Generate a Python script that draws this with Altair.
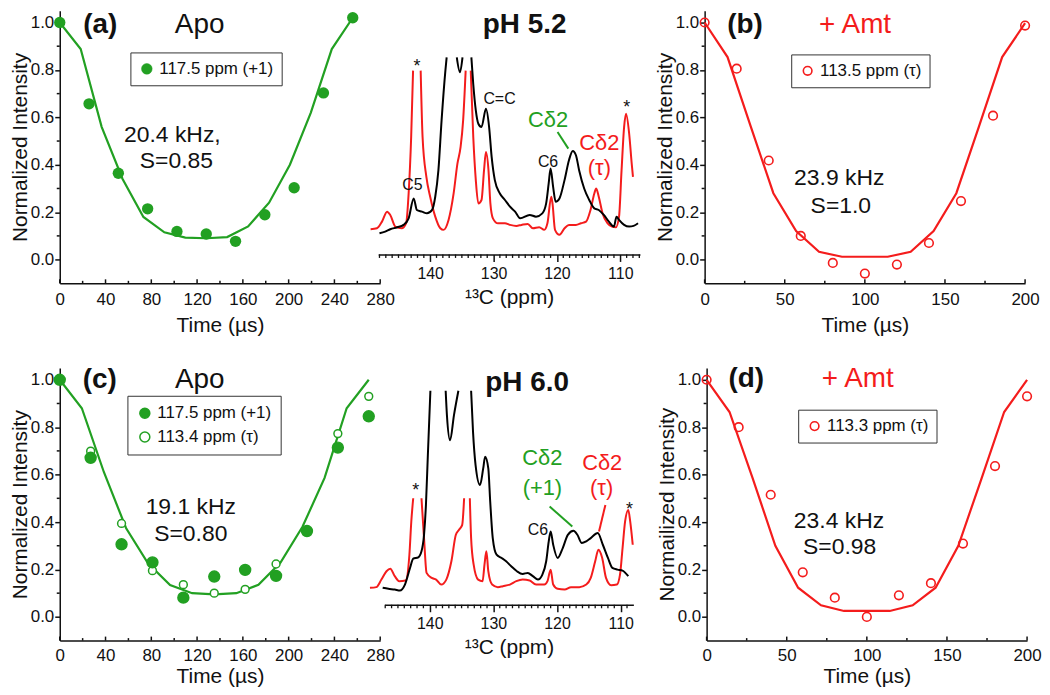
import altair as alt
import pandas as pd

FONT = "Liberation Sans"
GREEN = "#22a022"
RED = "#f41c1c"
INK = "#111111"

# ---------------- panel (a) ----------------
a_time = [0, 25.6, 51.2, 76.8, 102.4, 128.0, 153.6, 179.2, 204.8, 230.4, 256.0]
a_int = [1.0, 0.657, 0.364, 0.214, 0.119, 0.108, 0.077, 0.189, 0.303, 0.703, 1.02]
a_fit_time = [0, 18.3, 36.6, 54.9, 73.1, 91.4, 109.7, 128.0, 146.3, 164.6, 182.9, 201.1, 219.4, 237.7, 256.0]
a_fit_int = [1.0, 0.888, 0.56, 0.34, 0.18, 0.115, 0.093, 0.09, 0.095, 0.14, 0.24, 0.40, 0.62, 0.888, 1.02]
a_label = "117.5 ppm (+1)"

# ---------------- panel (b) ----------------
b_time = [0, 20, 40, 60, 80, 100, 120, 140, 160, 180, 200]
b_int = [1.0, 0.805, 0.418, 0.100, -0.014, -0.059, -0.021, 0.070, 0.247, 0.607, 0.987]
b_fit_time = [0, 14.3, 28.6, 42.9, 57.1, 71.4, 85.7, 100.0, 114.3, 128.6, 142.9, 157.1, 171.4, 185.7, 200.0]
b_fit_int = [1.0, 0.854, 0.565, 0.28, 0.12, 0.033, 0.012, 0.012, 0.012, 0.033, 0.12, 0.28, 0.565, 0.854, 0.997]
b_label = "113.5 ppm (τ)"

# ---------------- panel (c) ----------------
c_time = [0, 27, 54, 81, 108, 135, 162, 189, 216, 243, 270]
c_int_p1 = [1.0, 0.671, 0.306, 0.230, 0.081, 0.170, 0.198, 0.173, 0.362, 0.714, 0.846]
c_int_tau = [1.0, 0.699, 0.394, 0.195, 0.136, 0.100, 0.116, 0.223, 0.365, 0.773, 0.930]
c_fit_time = [0, 19.3, 38.6, 57.9, 77.1, 96.4, 115.7, 135.0, 154.3, 173.6, 192.9, 212.1, 231.4, 250.7, 270.0]
c_fit_int = [1.0, 0.88, 0.61, 0.375, 0.226, 0.134, 0.10, 0.095, 0.10, 0.135, 0.229, 0.38, 0.586, 0.88, 1.0]
c_labels = ["117.5 ppm (+1)", "113.4 ppm (τ)"]

# ---------------- panel (d) ----------------
d_time = [0, 20, 40, 60, 80, 100, 120, 140, 160, 180, 200]
d_int = [1.0, 0.80, 0.515, 0.188, 0.081, 0.0, 0.091, 0.142, 0.309, 0.636, 0.930]
d_fit_time = [0, 14.3, 28.6, 42.9, 57.1, 71.4, 85.7, 100.0, 114.3, 128.6, 142.9, 157.1, 171.4, 185.7, 200.0]
d_fit_int = [1.0, 0.864, 0.587, 0.30, 0.123, 0.049, 0.025, 0.025, 0.025, 0.049, 0.123, 0.30, 0.58, 0.864, 1.0]
d_label = "113.3 ppm (τ)"

# ---------------- spectrum pH 5.2 (ppm, intensity, segment) ----------------
s1_black_ppm = [148.0, 147.1, 146.3, 145.2, 144.2, 143.4, 142.6, 142.1, 141.3, 140.5, 139.7, 139.2, 138.7, 138.2, 137.6, 137.4,
                135.8, 135.3, 134.9,
                133.5, 133.2, 132.8, 132.4, 131.9, 131.2, 130.7, 130.3, 129.8, 129.0, 128.2, 127.4, 126.6, 125.8,
                124.3, 123.3, 122.3, 121.7, 121.3, 121.0, 120.6, 120.2, 119.6, 118.8, 118.1, 117.5, 117.0, 116.5,
                115.7, 114.9, 114.1, 113.4, 112.6, 111.8, 111.0, 110.6, 110.2, 109.4, 108.6, 107.9, 107.2]
s1_black_int = [21.3, 23, 25.3, 27.3, 29.7, 36.3, 56.3, 44.7, 43, 41.3, 44.7, 58, 84.7, 134.7, 184.7, 198,
                198, 183, 198,
                198, 171, 144.7, 131.3, 128, 146.3, 128, 98, 74.7, 61.3, 54.7, 48, 43, 36.3,
                39.7, 38, 41.3, 51.3, 71.3, 86.3, 68, 53, 56.3, 74.7, 94.7, 104, 99.7, 84.7,
                66.3, 54.7, 46.3, 44.7, 39.7, 33, 28, 38, 34.7, 29.7, 28, 28.7, 31.3]
s1_black_seg = [0] * 16 + [1] * 3 + [2] * 41

s1_red_ppm = [149.4, 148.4, 147.6, 146.8, 146.3, 145.5, 144.5, 143.8, 143.4, 143.0, 142.7,
              141.5, 141.2, 140.6, 140.0, 139.2, 138.4, 137.9, 137.1, 136.3, 135.7, 135.2, 134.8, 134.4,
              133.6, 133.2, 132.8, 132.4, 131.9, 131.5, 131.2, 130.8, 130.5, 130.1, 129.3, 128.2, 127.4, 126.4,
              125.6, 124.6, 123.8, 122.8, 122.0, 121.5, 120.9, 120.7, 120.3, 119.6, 118.8, 118.1, 117.0, 116.2,
              115.4, 114.7, 114.1, 113.8, 113.4, 112.8, 112.0, 111.3, 110.7, 110.2, 109.8, 109.4, 109.1, 108.6,
              108.2, 108.0]
s1_red_int = [25.3, 26.3, 33, 43, 39.7, 28, 26.3, 31.3, 61.3, 118, 184.7,
              184.7, 118, 78, 58, 38, 26.3, 24.7, 34.7, 61.3, 91.3, 108, 134.7, 184.7,
              184.7, 118, 74.7, 51.3, 54.7, 84.7, 103, 84.7, 51.3, 36.3, 31.3, 31.3, 29.7, 28.7,
              29.7, 30.7, 26.3, 27.3, 24.7, 31.3, 58, 51.3, 24.7, 19.7, 26.3, 29.7, 29.7, 31.3,
              33, 44.7, 61.3, 66.3, 58, 41.3, 31.3, 28, 27.3, 38, 84.7, 128, 141.3, 121.3,
              91.3, 78]
s1_red_seg = [0] * 11 + [1] * 13 + [2] * 44

# ---------------- spectrum pH 6.0 ----------------
s2_black_ppm = [147.4, 146.5, 145.5, 144.7, 143.9, 143.1, 142.6, 141.8, 141.3, 140.9, 140.6, 140.3, 139.9,
                137.5, 137.3, 136.8, 136.2, 135.5,
                133.5, 133.2, 132.8, 132.1, 131.6, 131.3, 130.8, 130.5, 130.1, 129.5, 128.7, 128.0, 127.2, 126.3,
                125.4, 124.6, 123.8, 123.0, 122.3, 121.7, 121.3, 121.0, 120.6, 119.9, 119.1, 118.3, 117.4, 116.8,
                116.1, 115.4, 114.7, 113.6, 112.8, 112.0, 111.3, 110.5, 109.7, 108.8]
s2_black_int = [17, 16, 15.3, 14.3, 20.3, 37, 46.3, 47.7, 53.7, 70.3, 100.3, 150.3, 215,
                215, 190.3, 165.3, 190.3, 215,
                215, 173.7, 140.3, 120.3, 137, 148.7, 137, 103.7, 67, 50.3, 47, 43.7, 38.7, 33.7,
                31, 32, 28.7, 25.3, 30.3, 43.7, 63.7, 73.7, 60.3, 47, 57, 70.3, 74.3, 70.3,
                62, 63.7, 67, 72, 60.3, 47, 37, 35.3, 34.3, 28.7]
s2_black_seg = [0] * 13 + [1] * 5 + [2] * 38

s2_red_ppm = [149.4, 148.4, 147.6, 146.8, 146.2, 145.5, 144.8, 143.8, 143.2, 142.9, 142.6,
              141.3, 140.9, 140.5, 139.7, 139.0, 138.2, 137.4, 136.6, 135.9, 135.4, 134.9, 134.6,
              133.7, 133.5, 133.1, 132.4, 131.7, 131.4, 131.1, 130.8, 130.2, 129.3, 128.5, 127.4, 126.4,
              125.4, 124.3, 123.3, 122.0, 121.5, 121.0, 120.6, 119.9, 118.8, 117.8, 116.5, 115.4, 114.7,
              114.0, 113.5, 112.9, 112.3, 111.5, 110.6, 110.1, 109.7, 109.3, 108.8, 108.5, 108.1]
s2_red_int = [17, 17.7, 25.3, 33.7, 36.3, 28.7, 23.7, 24.3, 50.3, 83.7, 107,
              107, 67, 32, 27, 25.3, 20.3, 25.3, 43.7, 70.3, 75.3, 80.3, 107,
              107, 67, 40.3, 25.3, 23.7, 40.3, 53.7, 33.7, 20.3, 17.7, 18.7, 20.3, 23.7,
              25.3, 24.3, 20.3, 20.3, 23.7, 35.3, 20.3, 16, 15.3, 17.7, 17.7, 20.3, 27,
              43.7, 55.3, 47, 27, 19.7, 20.3, 30.3, 57, 83.7, 95.3, 83.7, 60.3]
s2_red_seg = [0] * 11 + [1] * 12 + [2] * 38

# ---------------- annotation texts: (text, x, y, size, weight, color, baseline) ----------------
A_TEXT = [("(a)", 35.5, 1.05, 28, "bold", INK, "top"), ("Apo", 122.2, 1.05, 28, "normal", INK, "top"),
          ("20.4 kHz,", 98.4, 0.527, 23, "normal", INK, "middle"), ("S=0.85", 101.9, 0.417, 23, "normal", INK, "middle")]
B_TEXT = [("(b)", 25.2, 1.05, 28, "bold", INK, "top"), ("+ Amt", 93.9, 1.05, 28, "normal", RED, "top"),
          ("23.9 kHz", 84.0, 0.342, 23, "normal", INK, "middle"), ("S=1.0", 85.0, 0.228, 23, "normal", INK, "middle")]
C_TEXT = [("(c)", 35.0, 0.997, 28, "bold", INK, "middle"), ("Apo", 122.3, 0.997, 28, "normal", INK, "middle"),
          ("19.1 kHz", 114.5, 0.464, 23, "normal", INK, "middle"), ("S=0.80", 114.5, 0.351, 23, "normal", INK, "middle")]
D_TEXT = [("(d)", 24.8, 1.001, 28, "bold", INK, "middle"), ("+ Amt", 94.3, 1.001, 28, "normal", RED, "middle"),
          ("23.4 kHz", 82.6, 0.405, 23, "normal", INK, "middle"), ("S=0.98", 83.0, 0.293, 23, "normal", INK, "middle")]
S1_TEXT = [("pH 5.2", 125.1, 245, 28, "bold", INK, "top"), ("*", 142.1, 188, 18, "normal", INK, "middle"),
           ("C5", 142.8, 70, 16, "normal", INK, "middle"), ("C=C", 129.06, 156, 16, "normal", INK, "middle"),
           ("Cδ2", 121.4, 134.7, 22, "normal", GREEN, "middle"), ("Cδ2", 113.3, 112.3, 22, "normal", RED, "middle"),
           ("(τ)", 113.3, 87.3, 22, "normal", RED, "middle"), ("C6", 121.4, 92.7, 16, "normal", INK, "middle"),
           ("*", 109.0, 147, 18, "normal", INK, "middle")]
S1_LINKS = [(119.9, 123, 118.2, 106.3, GREEN)]
S2_TEXT = [("pH 6.0", 124.7, 223.0, 28, "bold", INK, "middle"), ("*", 142.2, 114, 18, "normal", INK, "middle"),
           ("Cδ2", 122.3, 147, 22, "normal", GREEN, "middle"), ("(+1)", 122.3, 117, 22, "normal", GREEN, "middle"),
           ("Cδ2", 112.9, 142.7, 22, "normal", RED, "middle"), ("(τ)", 113.0, 117, 22, "normal", RED, "middle"),
           ("C6", 123.0, 74.7, 16, "normal", INK, "middle"), ("*", 108.6, 95, 18, "normal", INK, "middle")]
S2_LINKS = [(121.16, 98.7, 117.6, 78.7, GREEN), (112.4, 100.3, 113.4, 73.7, RED)]

Y_DOM = [-0.1, 1.05]
PANEL_H = 274
W_LEFT = 322
W_RIGHT = 322


def text_layers(X, Y, items):
    out = []
    for t, x, y, size, weight, color, baseline in items:
        df = pd.DataFrame({"x": [x], "y": [y], "t": [t]})
        out.append(alt.Chart(df).mark_text(fontSize=size, fontWeight=weight, color=color, baseline=baseline,
                                           align="center", font=FONT)
                   .encode(x=X("x"), y=Y("y"), text="t:N"))
    return out


def box_legend(lx, ly, sym_stroke, sym_fill=None, size=115, sw=1.5, row_pad=2, pad=8):
    kw = dict(orient="none", legendX=lx, legendY=ly, title=None, strokeColor="#333333", fillColor="white",
              padding=pad, labelFontSize=17, labelFont=FONT, labelColor=INK, symbolType="circle",
              symbolSize=size, symbolStrokeColor=sym_stroke, symbolStrokeWidth=sw, labelOffset=4,
              rowPadding=row_pad)
    if sym_fill is not None:
        kw["symbolFillColor"] = sym_fill
    return alt.Legend(**kw)


def time_panel(W, xmax, xmajor, xminor, ytitle, data_layers_fn, fit_t, fit_v, fit_color, texts,
               label_pad, title_pad):
    xs = alt.Scale(domain=[0, xmax], nice=False, zero=False)
    ys = alt.Scale(domain=Y_DOM, nice=False, zero=False)
    xa = alt.Axis(values=xmajor, title="Time (µs)", ticks=False, tickSize=0, labelPadding=label_pad,
                  titlePadding=title_pad, labelFontSize=17, titleFontSize=21, titleFontWeight="normal", grid=False,
                  labelFlush=False, labelOverlap=False, domainColor=INK, domainWidth=1.5, labelColor=INK,
                  titleColor=INK)
    ya = alt.Axis(values=[0.0, 0.2, 0.4, 0.6, 0.8, 1.0], format=".1f", title=ytitle, tickSize=5, tickWidth=1.5,
                  tickColor=INK, labelPadding=1, titlePadding=0, labelFontSize=17, titleFontSize=21,
                  titleFontWeight="normal", grid=False, labelFlush=False, labelOverlap=False,
                  domainColor=INK, domainWidth=1.5, labelColor=INK, titleColor=INK)
    X = lambda f: alt.X(f, type="quantitative", scale=xs, axis=xa)
    Y = lambda f: alt.Y(f, type="quantitative", scale=ys, axis=ya)
    ppx = W / xmax
    ppy = PANEL_H / (Y_DOM[1] - Y_DOM[0])

    xt = list(xmajor) + list(xminor)
    xlen = [4.0] * len(xmajor) + [2.5] * len(xminor)
    xticks = pd.DataFrame({"x": xt, "y": [Y_DOM[0]] * len(xt),
                           "y2": [Y_DOM[0] + L / ppy for L in xlen]})
    ymin = [0.1, 0.3, 0.5, 0.7, 0.9]
    yticks = pd.DataFrame({"x": [0.0] * len(ymin), "x2": [-3.0 / ppx] * len(ymin), "y": ymin})
    layers = [
        alt.Chart(xticks).mark_rule(color=INK, strokeWidth=1.5).encode(x=X("x"), y=Y("y"), y2=alt.Y2("y2")),
        alt.Chart(yticks).mark_rule(color=INK, strokeWidth=1.5).encode(x=X("x"), x2=alt.X2("x2"), y=Y("y")),
        alt.Chart(pd.DataFrame({"x": fit_t, "y": fit_v})).mark_line(color=fit_color, strokeWidth=2.2)
        .encode(x=X("x"), y=Y("y")),
    ]
    layers += data_layers_fn(X, Y)
    layers += text_layers(X, Y, texts)
    return alt.layer(*layers)


def spectrum_panel(dom, xrange, ydom, yrange, axis_offset, bl, rd, texts, links):
    # spectrum drawn inside the left panel's group with its own (independent) scales
    xs = alt.Scale(domain=dom, range=xrange, nice=False, zero=False)
    ys = alt.Scale(domain=ydom, range=yrange, nice=False, zero=False)
    xa = alt.Axis(values=[110, 120, 130, 140], format="d", title="¹³C (ppm)", orient="bottom", offset=axis_offset,
                  tickSize=7, tickWidth=1.5, tickColor=INK, labelPadding=4, titlePadding=5, labelFontSize=16,
                  titleFontSize=21, titleFontWeight="normal", grid=False, labelFlush=False, labelOverlap=False,
                  domainColor=INK, domainWidth=1.5, labelColor=INK, titleColor=INK)
    X = lambda f: alt.X(f, type="quantitative", scale=xs, axis=xa)
    Y = lambda f: alt.Y(f, type="quantitative", scale=ys, axis=None)
    lo, hi = int(dom[0]) + 1, int(dom[1])
    minor = [v for v in range(lo, hi + 1) if v % 10 != 0]
    mt = pd.DataFrame({"x": minor, "y": [0.0] * len(minor), "y2": [-3.5] * len(minor)})
    layers = [alt.Chart(mt).mark_rule(color=INK, strokeWidth=1.3).encode(x=X("x"), y=Y("y"), y2=alt.Y2("y2"))]
    for (p, v, s), col in ((rd, RED), (bl, "#000000")):
        df = pd.DataFrame({"x": p, "y": v, "seg": s, "i": list(range(len(p)))})
        layers.append(alt.Chart(df).mark_line(color=col, strokeWidth=2, interpolate="monotone")
                      .encode(x=X("x"), y=Y("y"), detail="seg:N", order="i:Q"))
    for x1, y1, x2, y2, col in links:
        df = pd.DataFrame({"x": [x1], "y": [y1], "x2": [x2], "y2": [y2]})
        layers.append(alt.Chart(df).mark_rule(color=col, strokeWidth=2)
                      .encode(x=X("x"), y=Y("y"), x2=alt.X2("x2"), y2=alt.Y2("y2")))
    layers += text_layers(X, Y, texts)
    return alt.layer(*layers)


# ---------- point layers ----------
def a_points(X, Y):
    df = pd.DataFrame({"x": a_time, "y": a_int, "s": [a_label] * len(a_time)})
    return [alt.Chart(df).mark_circle(size=130, opacity=1).encode(
        x=X("x"), y=Y("y"),
        fill=alt.Fill("s:N", scale=alt.Scale(domain=[a_label], range=[GREEN]),
                      legend=box_legend(71, 42, GREEN, size=115, sw=0.5)))]


def open_points(times, vals, label, lx, ly):
    def fn(X, Y):
        df = pd.DataFrame({"x": times, "y": vals, "s": [label] * len(times)})
        return [alt.Chart(df).mark_point(shape="circle", filled=False, size=75, strokeWidth=1.6, opacity=1).encode(
            x=X("x"), y=Y("y"),
            stroke=alt.Stroke("s:N", scale=alt.Scale(domain=[label], range=[RED]),
                              legend=box_legend(lx, ly, RED, sym_fill="white", size=75, sw=1.6)))]
    return fn


def c_points(X, Y):
    sc = alt.Scale(domain=c_labels, range=[GREEN, "white"])
    leg = box_legend(68, 28, GREEN, size=100, sw=1.5, row_pad=6, pad=9)
    df_open = pd.DataFrame({"x": c_time, "y": c_int_tau, "s": [c_labels[1]] * len(c_time)})
    df_fill = pd.DataFrame({"x": c_time, "y": c_int_p1, "s": [c_labels[0]] * len(c_time)})
    return [
        alt.Chart(df_open).mark_point(shape="circle", filled=True, size=62, strokeWidth=1.5, stroke=GREEN, opacity=1)
        .encode(x=X("x"), y=Y("y"), fill=alt.Fill("s:N", scale=sc, legend=leg)),
        alt.Chart(df_fill).mark_point(shape="circle", filled=True, size=120, strokeWidth=1.5, stroke=GREEN, opacity=1)
        .encode(x=X("x"), y=Y("y"), fill=alt.Fill("s:N", scale=sc, legend=leg)),
    ]


A = time_panel(W_LEFT, 280, [0, 40, 80, 120, 160, 200, 240, 280], [20, 60, 100, 140, 180, 220, 260],
               "Normalized Intensity", a_points, a_fit_time, a_fit_int, GREEN, A_TEXT, 8, 7)
B = time_panel(W_RIGHT, 200, [0, 50, 100, 150, 200], [25, 75, 125, 175],
               "Normalized Intensity", open_points(b_time, b_int, b_label, 87, 44), b_fit_time, b_fit_int, RED,
               B_TEXT, 8, 7)
C = time_panel(W_LEFT, 280, [0, 40, 80, 120, 160, 200, 240, 280], [20, 60, 100, 140, 180, 220, 260],
               "Normalized Intensity", c_points, c_fit_time, c_fit_int, GREEN, C_TEXT, 7, 2)
D = time_panel(W_RIGHT, 200, [0, 50, 100, 150, 200], [25, 75, 125, 175],
               "Normailized Intensity", open_points(d_time, d_int, d_label, 92, 42), d_fit_time, d_fit_int, RED,
               D_TEXT, 7, 2)

S1 = spectrum_panel([106.9, 148.2], [583, 320], [0, 250], [245, -5], -29,
                    (s1_black_ppm, s1_black_int, s1_black_seg), (s1_red_ppm, s1_red_int, s1_red_seg),
                    S1_TEXT, S1_LINKS)
S2 = spectrum_panel([108.0, 147.1], [576.4, 326.4], [0, 242], [238, -4], -36,
                    (s2_black_ppm, s2_black_int, s2_black_seg), (s2_red_ppm, s2_red_int, s2_red_seg),
                    S2_TEXT, S2_LINKS)


def indep(ch):
    return ch.resolve_scale(fill="independent", stroke="independent") \
             .resolve_legend(fill="independent", stroke="independent")


def pair(left, spec):
    return alt.layer(left, spec).resolve_scale(x="independent", y="independent") \
        .resolve_axis(x="independent", y="independent").properties(width=W_LEFT, height=PANEL_H)


row1 = indep(alt.hconcat(pair(A, S1), B.properties(width=W_RIGHT, height=PANEL_H), spacing=10))
row2 = indep(alt.hconcat(pair(C, S2), D.properties(width=W_RIGHT, height=PANEL_H), spacing=17))

chart = indep(alt.vconcat(row1, row2, spacing=29)).properties(padding=0, background="white") \
    .configure(font=FONT).configure_view(stroke="transparent")

chart.save("out.html", embed_options={"renderer": "svg", "actions": False})
